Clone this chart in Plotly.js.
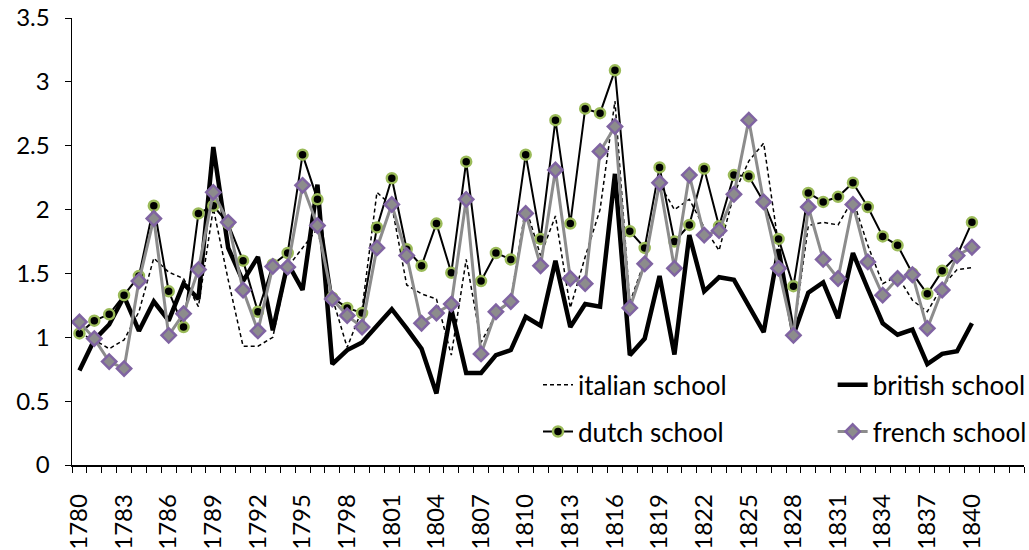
<!DOCTYPE html>
<html>
<head>
<meta charset="utf-8">
<script src="https://cdn.plot.ly/plotly-3.0.1.min.js"></script>
<style>html,body{margin:0;padding:0;background:#fff;}#chart{width:1029px;height:550px;}</style>
</head>
<body>
<div id="chart"></div>
<script>
var years = [1780,1781,1782,1783,1784,1785,1786,1787,1788,1789,1790,1791,1792,1793,1794,1795,1796,1797,1798,1799,1800,1801,1802,1803,1804,1805,1806,1807,1808,1809,1810,1811,1812,1813,1814,1815,1816,1817,1818,1819,1820,1821,1822,1823,1824,1825,1826,1827,1828,1829,1830,1831,1832,1833,1834,1835,1836,1837,1838,1839,1840];

var italian = [1.03,0.98,0.91,0.98,1.20,1.62,1.51,1.46,1.24,2.01,1.45,0.93,0.93,1.00,1.55,1.70,1.85,1.31,0.92,1.22,2.135,2.03,1.41,1.34,1.30,0.86,1.61,0.96,1.18,1.29,2.02,1.64,1.95,1.23,1.63,2.00,2.85,1.27,1.60,2.20,2.00,2.08,1.86,1.68,2.12,2.38,2.52,1.72,1.03,1.875,1.90,1.88,2.08,1.72,1.42,1.48,1.29,1.20,1.40,1.53,1.545];

var british = [0.74,0.98,1.10,1.32,1.05,1.28,1.13,1.42,1.30,2.49,1.70,1.44,1.63,1.055,1.58,1.37,2.195,0.79,0.90,0.96,1.09,1.22,1.07,0.91,0.56,1.22,0.72,0.72,0.86,0.90,1.16,1.09,1.60,1.08,1.26,1.24,2.28,0.86,0.99,1.48,0.865,1.80,1.36,1.47,1.45,1.25,1.04,1.69,1.02,1.35,1.43,1.15,1.66,1.38,1.11,1.02,1.06,0.79,0.87,0.89,1.11];

var dutch = [1.03,1.13,1.18,1.33,1.48,2.03,1.36,1.08,1.97,2.03,1.89,1.60,1.20,1.57,1.66,2.43,2.08,1.31,1.23,1.19,1.86,2.245,1.69,1.56,1.89,1.505,2.375,1.44,1.66,1.61,2.43,1.77,2.70,1.89,2.79,2.755,3.09,1.83,1.70,2.33,1.75,1.88,2.32,1.87,2.27,2.26,2.06,1.77,1.40,2.13,2.06,2.10,2.21,2.02,1.79,1.72,1.50,1.34,1.52,1.64,1.90];

var french = [1.12,0.99,0.81,0.755,1.44,1.93,1.015,1.185,1.53,2.135,1.90,1.37,1.05,1.555,1.55,2.19,1.875,1.30,1.17,1.08,1.70,2.04,1.64,1.11,1.19,1.26,2.08,0.87,1.20,1.28,1.97,1.56,2.31,1.46,1.42,2.455,2.65,1.23,1.575,2.21,1.54,2.27,1.80,1.835,2.12,2.70,2.06,1.54,1.015,2.02,1.61,1.46,2.04,1.59,1.33,1.46,1.49,1.07,1.37,1.64,1.705];

var tickYears = [1780,1783,1786,1789,1792,1795,1798,1801,1804,1807,1810,1813,1816,1819,1822,1825,1828,1831,1834,1837,1840];
var tickLabels = ['1780','1783','1786','1789','1792','1795','1798','1801','1804','1807','1810','1813','1816','1819','1822','1825','1828','1831','1834','1837','1840'];

var FONT = 'Lato, "Open Sans", "Liberation Sans", sans-serif';

var traces = [
  {x: years, y: italian, name: 'italian school', type: 'scatter', mode: 'lines',
   line: {color: '#000', width: 1.5, dash: '4px,3px'}, legend: 'legend', legendgroup: 'a'},
  {x: years, y: british, name: 'british school', type: 'scatter', mode: 'lines',
   line: {color: '#000', width: 4.5}, legend: 'legend2', legendgroup: 'b'},
  {x: years, y: dutch, name: 'dutch school', type: 'scatter', mode: 'lines+markers',
   line: {color: '#000', width: 2},
   marker: {symbol: 'circle', size: 10, color: '#000', line: {color: '#9BBB59', width: 2.5}},
   legend: 'legend', legendgroup: 'c'},
  {x: years, y: french, name: 'french school', type: 'scatter', mode: 'lines+markers',
   line: {color: '#8C8C8C', width: 3},
   marker: {symbol: 'diamond', size: 11, color: '#8C8C8C', line: {color: '#8064A2', width: 2.5}},
   legend: 'legend2', legendgroup: 'd'}
];

var legendCommon = {
  orientation: 'v', traceorder: 'grouped', tracegroupgap: 10,
  font: {family: FONT, size: 26, color: '#000'},
  bgcolor: 'rgba(0,0,0,0)', borderwidth: 0,
  xanchor: 'left', yanchor: 'top', y: 0.232
};

var layout = {
  width: 1029, height: 550,
  margin: {l: 72, r: 5, t: 18, b: 85, autoexpand: false},
  paper_bgcolor: '#fff', plot_bgcolor: '#fff',
  font: {family: FONT, size: 26, color: '#000'},
  showlegend: true,
  legend: Object.assign({}, legendCommon, {x: 0.4895}),
  legend2: Object.assign({}, legendCommon, {x: 0.799}),
  xaxis: {
    range: [1779.5, 1843.5],
    tickmode: 'array', tickvals: tickYears, ticktext: tickLabels,
    tickangle: -90, ticks: '', ticklabelstandoff: 18,
    tickfont: {family: FONT, size: 24, color: '#000'},
    showline: true, linecolor: '#000', linewidth: 1.5,
    showgrid: false, zeroline: false, automargin: false,
    minor: {tickmode: 'linear', tick0: 1779.5, dtick: 1, ticks: 'outside', ticklen: 6, tickwidth: 1, tickcolor: '#000', showgrid: false}
  },
  yaxis: {
    range: [0, 3.5], tickmode: 'linear', tick0: 0, dtick: 0.5,
    ticks: 'outside', ticklen: 6, tickwidth: 1, tickcolor: '#000',
    ticklabelstandoff: 10, automargin: false,
    tickfont: {family: FONT, size: 24, color: '#000'},
    showline: true, linecolor: '#000', linewidth: 1.5,
    showgrid: false, zeroline: false
  }
};

Plotly.newPlot('chart', traces, layout, {displayModeBar: false, staticPlot: true});
</script>
</body>
</html>
